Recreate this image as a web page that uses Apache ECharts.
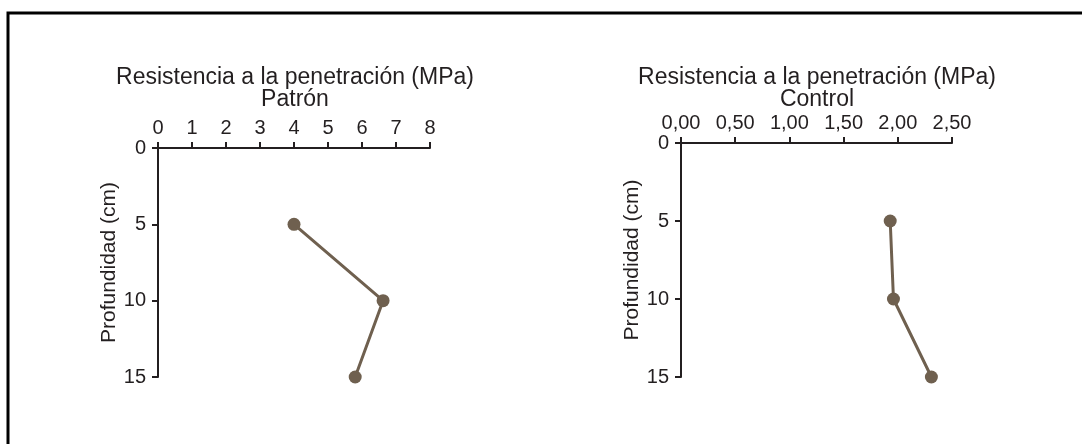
<!DOCTYPE html>
<html>
<head>
<meta charset="utf-8">
<script src="https://cdn.jsdelivr.net/npm/echarts@6/dist/echarts.min.js"></script>
<style>
  html, body { margin: 0; padding: 0; background: #fff; }
  #chart { width: 1082px; height: 444px; }
</style>
</head>
<body>
<div id="chart"></div>
<script>
// profundidad (cm)
const depths = [5, 10, 15];
// resistencia a la penetración (MPa)
const patronValues = [4.0, 6.62, 5.8];
const controlValues = [1.93, 1.96, 2.31];
const patronTicks = [0, 8, 1];      // min, max, interval
const controlTicks = [0, 2.5, 0.5];
const depthTicks = [0, 15, 5];

const ink = "#231f20";
const brown = "#6f604f";
const font = "Liberation Sans, Arial, sans-serif";

let chart = echarts.init(document.getElementById("chart"));

function xAxisFor(idx, t, fmt) {
  return {
    gridIndex: idx,
    type: "value",
    position: "top",
    min: t[0],
    max: t[1],
    interval: t[2],
    axisLine: { show: true, onZero: false, lineStyle: { color: ink, width: 2 } },
    axisTick: { show: true, length: 6, lineStyle: { color: ink, width: 2 } },
    axisLabel: { color: ink, fontSize: 20, fontFamily: font, margin: 10, formatter: fmt },
    splitLine: { show: false },
  };
}

function yAxisFor(idx) {
  return {
    gridIndex: idx,
    type: "value",
    inverse: true,
    min: depthTicks[0],
    max: depthTicks[1],
    interval: depthTicks[2],
    name: "Profundidad (cm)",
    nameLocation: "middle",
    nameRotate: 90,
    nameGap: 36,
    nameTextStyle: { color: ink, fontSize: 21, fontFamily: font },
    axisLine: { show: true, onZero: false, lineStyle: { color: ink, width: 2 } },
    axisTick: { show: true, length: 6, lineStyle: { color: ink, width: 2 } },
    axisLabel: { color: ink, fontSize: 20, fontFamily: font, margin: 12 },
    splitLine: { show: false },
  };
}

function seriesFor(idx, values) {
  return {
    type: "line",
    xAxisIndex: idx,
    yAxisIndex: idx,
    data: values.map((v, i) => [v, depths[i]]),
    symbol: "circle",
    symbolSize: 13,
    lineStyle: { color: brown, width: 3 },
    itemStyle: { color: brown },
    animation: false,
  };
}

let option = {
  backgroundColor: "#fff",
  title: [
    {
      text: "Resistencia a la penetración (MPa)\nPatrón",
      left: 290, top: 62, textAlign: "center",
      textStyle: { color: ink, fontSize: 23, fontWeight: "normal", fontFamily: font, lineHeight: 22 },
    },
    {
      text: "Resistencia a la penetración (MPa)\nControl",
      left: 812, top: 62, textAlign: "center",
      textStyle: { color: ink, fontSize: 23, fontWeight: "normal", fontFamily: font, lineHeight: 22 },
    },
  ],
  graphic: [
    {
      type: "rect",
      shape: { x: 8, y: 13, width: 1200, height: 600 },
      style: { fill: "none", stroke: "#000", lineWidth: 3 },
      z: -1,
    },
  ],
  grid: [
    { left: 158, top: 148, width: 272, height: 229 },
    { left: 681, top: 143, width: 271, height: 234 },
  ],
  xAxis: [
    xAxisFor(0, patronTicks),
    xAxisFor(1, controlTicks, (v) => v.toFixed(2).replace(".", ",")),
  ],
  yAxis: [yAxisFor(0), yAxisFor(1)],
  series: [seriesFor(0, patronValues), seriesFor(1, controlValues)],
};

chart.setOption(option);
</script>
</body>
</html>
